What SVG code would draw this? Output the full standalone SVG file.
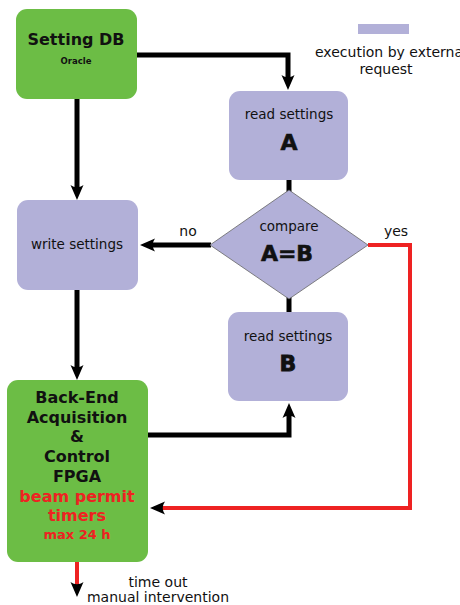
<svg xmlns="http://www.w3.org/2000/svg" width="460" height="605" viewBox="0 0 460 605">
<style>
text{font-family:"DejaVu Sans",Verdana,sans-serif;text-anchor:middle;fill:#111}
.g{fill:#6cbd45}
.p{fill:#b2b0d8}
.b{font-weight:bold}
.r{fill:#ee2222}
.k{fill:none;stroke:#000;stroke-width:5}
.rd{fill:none;stroke:#ee2222;stroke-width:4}
</style>
<defs>
<marker id="ah" markerUnits="userSpaceOnUse" markerWidth="30" markerHeight="30" refX="0" refY="0" orient="auto" overflow="visible" viewBox="-10 -10 30 20">
<path d="M10,0 L-5,-6.5 C-2,-2 -2,2 -5,6.5 Z" fill="#000"/>
</marker>
</defs>
<g id="legend">
<rect x="358" y="24" width="51" height="10" class="p"/>
<text x="315" y="57" font-size="14" style="text-anchor:start">execution by externa</text>
<text x="386" y="74" font-size="14">request</text>
</g>
<g id="connectors">
<path class="k" d="M137,55 H288 V80" marker-end="url(#ah)"/>
<path class="k" d="M289,180 V192"/>
<path class="k" d="M211,245 H150" marker-end="url(#ah)"/>
<path class="k" d="M289,297 V313"/>
<path class="k" d="M147,435 H289 V413" marker-end="url(#ah)"/>
<path class="rd" d="M368,245 H410 V508 H160" marker-end="url(#ah)"/>
<path class="k" d="M77,99 V190" marker-end="url(#ah)"/>
<path class="k" d="M77,290 V370" marker-end="url(#ah)"/>
<path class="rd" d="M77,562 V587" marker-end="url(#ah)"/>
</g>
<g id="settingdb">
<rect x="16" y="9" width="121" height="90" rx="11" class="g"/>
<text x="76" y="45" font-size="16" class="b">Setting DB</text>
<text x="76" y="64" font-size="8.5" class="b">Oracle</text>
</g>
<g id="readA">
<rect x="229" y="91" width="119" height="89" rx="11" class="p"/>
<text x="289" y="119" font-size="13.5">read settings</text>
<text x="289" y="150" font-size="22" class="b" stroke="#111" stroke-width="0.6">A</text>
</g>
<g id="compare">
<polygon points="289,190 368,245 289,299 210,245" class="p" stroke="#666" stroke-width="0.8"/>
<text x="289" y="231" font-size="13.5">compare</text>
<text x="287" y="261" font-size="22" class="b" stroke="#111" stroke-width="0.6">A=B</text>
</g>
<g id="write">
<rect x="17" y="200" width="121" height="90" rx="11" class="p"/>
<text x="77" y="249" font-size="13.5">write settings</text>
</g>
<g id="readB">
<rect x="228" y="312" width="120" height="89" rx="11" class="p"/>
<text x="288" y="341" font-size="13.5">read settings</text>
<text x="288" y="371" font-size="22" class="b" stroke="#111" stroke-width="0.8">B</text>
</g>
<g id="backend">
<rect x="7" y="380" width="141" height="182" rx="11" class="g"/>
<text x="77" y="403" font-size="16" class="b">Back-End</text>
<text x="77" y="423" font-size="16" class="b">Acquisition</text>
<text x="77" y="442" font-size="16" class="b">&amp;</text>
<text x="77" y="462" font-size="16" class="b">Control</text>
<text x="77" y="482" font-size="16" class="b">FPGA</text>
<text x="77" y="502" font-size="16" class="b r">beam permit</text>
<text x="77" y="521" font-size="16" class="b r">timers</text>
<text x="77" y="539" font-size="13" class="b r">max 24 h</text>
</g>
<g id="labels">
<text x="188" y="236" font-size="14">no</text>
<text x="396" y="236" font-size="14">yes</text>
<text x="158" y="587" font-size="14">time out</text>
<text x="158" y="602" font-size="14">manual intervention</text>
</g>
</svg>
